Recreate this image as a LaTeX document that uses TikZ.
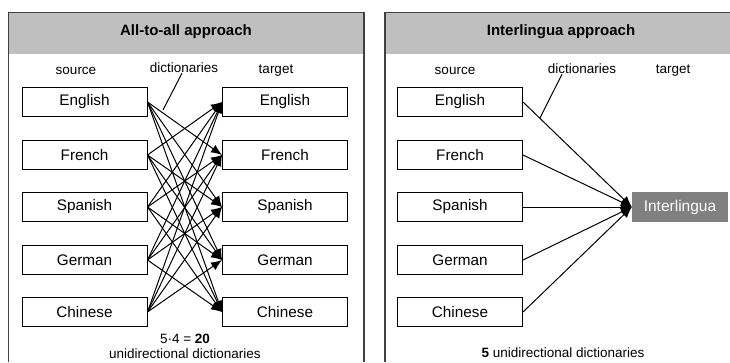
\documentclass[tikz,border=0pt]{standalone}
\usepackage{fontspec}
\setmainfont{Liberation Sans}
\usetikzlibrary{arrows.meta}
\begin{document}
\begin{tikzpicture}[x=1pt,y=-1pt,
  panel/.style={draw=black!75,line width=1.3pt},
  header/.style={fill=black!25},
  lang/.style={draw=black,line width=1pt,minimum width=125pt,minimum height=29pt,inner sep=0pt,font=\fontsize{15.3}{17}\selectfont},
  lbl/.style={font=\fontsize{13.5}{15}\selectfont,inner sep=0pt},
  ttl/.style={font=\fontsize{15}{17}\selectfont\bfseries,inner sep=0pt},
  inter/.style={fill=black!50,text=white,minimum width=96pt,minimum height=30pt,inner sep=0pt,font=\fontsize{15.5}{17}\selectfont},
  arr/.style={-{Latex[length=11pt,width=9pt]},line width=1pt},
  pline/.style={line width=1pt}]
\useasboundingbox (0,0) rectangle (730,362);
% panels
\fill[header] (8.5,12.5) rectangle (364,54);
\draw[panel] (8.5,362) -- (8.5,12.5) -- (364,12.5) -- (364,362);
\fill[header] (385,12.5) rectangle (731,54);
\draw[panel] (385,362) -- (385,12.5) -- (731,12.5);
% titles
\node[ttl] (t1) at (186,32) {All-to-all approach};
\node[ttl] (t2) at (561,32) {Interlingua approach};
% labels left
\node[lbl] (src1) at (76,71) {source};
\node[lbl] (dic1) at (184,68) {dictionaries};
\node[lbl] (tgt1) at (276,71) {target};
% labels right
\node[lbl] (src2) at (455,71) {source};
\node[lbl] (dic2) at (582,69) {dictionaries};
\node[lbl] (tgt2) at (673,71) {target};
% boxes
\foreach \n/\t/\y in {1/English/102,2/French/155,3/Spanish/207,4/German/260,5/Chinese/312}{
  \node[lang] (s\n) at (84.5,\y) {\t};
  \node[lang] (d\n) at (285,\y) {\t};
  \node[lang] (r\n) at (460,\y) {\t};
}
\node[inter] (il) at (680,207) {Interlingua};
% all-to-all arrows
\foreach \i in {1,...,5}{
  \foreach \j in {1,...,5}{
    \ifnum\i=\j\else
      \draw[arr] (s\i.east) -- (d\j.west);
    \fi
  }
}
% interlingua arrows
\foreach \i in {1,...,5}{
  \draw[arr] (r\i.east) -- (il.west);
}
% dictionary pointers
\coordinate (p1) at (163,110);
\coordinate (p2) at (540,118);
\draw[pline] (p1) -- ([xshift=-2pt]dic1.south);
\draw[pline] (p2) -- ([xshift=-20pt]dic2.south);
% bottom texts
\node[lbl] (f1) at (185,339) {5·4 = \textbf{20}};
\node[lbl] (u1) at (185,354) {unidirectional dictionaries};
\node[lbl] (u2) at (563,353) {\textbf{5} unidirectional dictionaries};
\end{tikzpicture}
\end{document}
